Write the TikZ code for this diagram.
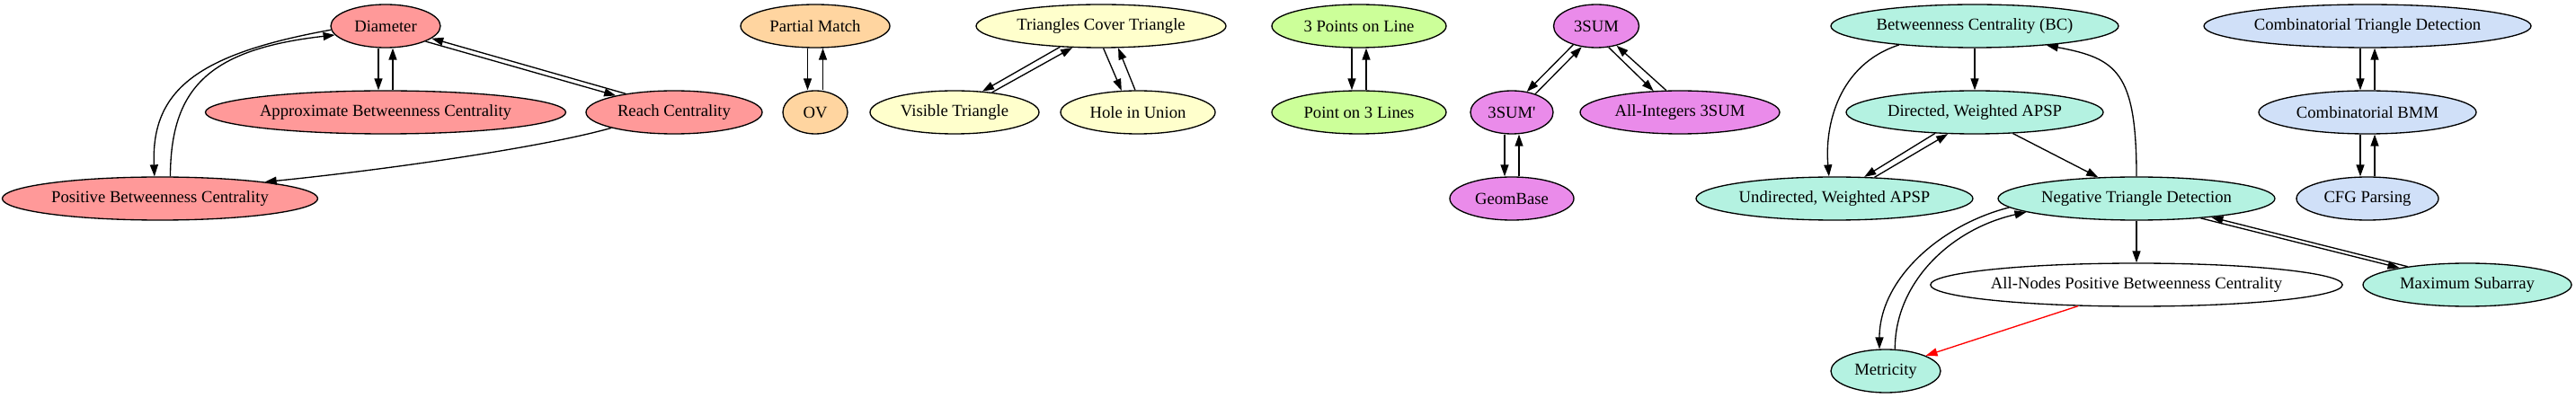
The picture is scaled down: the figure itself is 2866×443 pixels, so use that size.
\documentclass[tikz,border=0pt]{standalone}
\usepackage{fontspec}
\setmainfont{Liberation Serif}
\usetikzlibrary{shapes.geometric,arrows.meta}
\definecolor{cred}{HTML}{FF9999}
\definecolor{corange}{HTML}{FFD5A0}
\definecolor{cyellow}{HTML}{FFFFCC}
\definecolor{cgreen}{HTML}{CCFF99}
\definecolor{cpurple}{HTML}{EA8BEA}
\definecolor{cteal}{HTML}{B4F2E1}
\definecolor{cblue}{HTML}{D0E0F8}
\begin{document}
\begin{tikzpicture}[x=1pt,y=-1pt,
  nd/.style={ellipse,draw=black,line width=1.33pt,inner sep=0pt,minimum height=48pt,
    font=\fontsize{18.67}{22}\selectfont},
  ed/.style={color=black,line width=1.33pt,-{Triangle[length=13pt,width=9pt]}},
  ]
\useasboundingbox (0,0) rectangle (2866,443);
% red group
\node[nd,fill=cred,minimum width=122pt] (diam) at (429,29) {Diameter};
\node[nd,fill=cred,minimum width=401pt] (abc) at (429,125) {Approximate Betweenness Centrality};
\node[nd,fill=cred,minimum width=196pt] (reach) at (750,125) {Reach Centrality};
\node[nd,fill=cred,minimum width=351pt] (pbc) at (178,221) {Positive Betweenness Centrality};
% orange
\node[nd,fill=corange,minimum width=166pt] (pm) at (907,29) {Partial Match};
\node[nd,fill=corange,minimum width=72pt] (ov) at (907,125) {OV};
% yellow
\node[nd,fill=cyellow,minimum width=278pt] (tct) at (1225,29) {Triangles Cover Triangle};
\node[nd,fill=cyellow,minimum width=188pt] (vt) at (1062,125) {Visible Triangle};
\node[nd,fill=cyellow,minimum width=172pt] (hu) at (1266,125) {Hole in Union};
% green
\node[nd,fill=cgreen,minimum width=194pt] (tpl) at (1512,29) {3 Points on Line};
\node[nd,fill=cgreen,minimum width=194pt] (ptl) at (1512,125) {Point on 3 Lines};
% purple
\node[nd,fill=cpurple,minimum width=95pt] (s3) at (1776,29) {3SUM};
\node[nd,fill=cpurple,minimum width=92pt] (s3p) at (1682,125) {3SUM\textquotesingle};
\node[nd,fill=cpurple,minimum width=222pt] (ai3) at (1869,125) {All-Integers 3SUM};
\node[nd,fill=cpurple,minimum width=138pt] (gb) at (1682,221) {GeomBase};
% teal
\node[nd,fill=cteal,minimum width=320pt] (bc) at (2197,29) {Betweenness Centrality (BC)};
\node[nd,fill=cteal,minimum width=286pt] (dapsp) at (2197,125) {Directed, Weighted APSP};
\node[nd,fill=cteal,minimum width=308pt] (uapsp) at (2041,221) {Undirected, Weighted APSP};
\node[nd,fill=cteal,minimum width=308pt] (ntd) at (2377,221) {Negative Triangle Detection};
\node[nd,fill=white,minimum width=457pt] (anpbc) at (2377,317) {All-Nodes Positive Betweenness Centrality};
\node[nd,fill=cteal,minimum width=232pt] (msa) at (2745,317) {Maximum Subarray};
\node[nd,fill=cteal,minimum width=122pt] (met) at (2098,413) {Metricity};
% blue
\node[nd,fill=cblue,minimum width=364pt] (ctd) at (2634,29) {Combinatorial Triangle Detection};
\node[nd,fill=cblue,minimum width=242pt] (bmm) at (2634,125) {Combinatorial BMM};
\node[nd,fill=cblue,minimum width=158pt] (cfg) at (2634,221) {CFG Parsing};

% red edges
\draw[ed] ([xshift=-8pt]diam.south) -- ([xshift=-8pt]abc.north);
\draw[ed] ([xshift=8pt]abc.north) -- ([xshift=8pt]diam.south);
\draw[ed] (diam.339) -- (reach.164);
\draw[ed] (reach.159) -- (diam.345);
\draw[ed] (diam.184) .. controls (220,60) and (168,100) .. (pbc.104);
\draw[ed] (pbc.65) .. controls (190,100) and (230,55) .. (diam.190);
\draw[ed] (reach.194) .. controls (600,165) and (420,190) .. (pbc.9);
% orange edges
\draw[ed] ([xshift=-8.5pt]pm.south) -- ([xshift=-8.5pt]ov.north);
\draw[ed] ([xshift=8.5pt]ov.north) -- ([xshift=8.5pt]pm.south);
% yellow edges
\draw[ed] (tct.207) -- (vt.37);
\draw[ed] (vt.28) -- (tct.217);
\draw[ed] (tct.276) -- (hu.127);
\draw[ed] (hu.97) -- (tct.308);
% green edges
\draw[ed] ([xshift=-8pt]tpl.south) -- ([xshift=-8pt]ptl.north);
\draw[ed] ([xshift=8pt]ptl.north) -- ([xshift=8pt]tpl.south);
% purple edges
\draw[ed] (s3.219) -- (s3p.54);
\draw[ed] (s3p.38) -- (s3.235);
\draw[ed] (s3.300) -- (ai3.141);
\draw[ed] (ai3.122) -- (s3.316);
\draw[ed] ([xshift=-8pt]s3p.south) -- ([xshift=-8pt]gb.north);
\draw[ed] ([xshift=8pt]gb.north) -- ([xshift=8pt]s3p.south);
% teal edges
\draw[ed] (bc.south) -- (dapsp.north);
\draw[ed] (bc.194) .. controls (2045,72) and (2030,140) .. (uapsp.104);
\draw[ed] (dapsp.208) -- (uapsp.36);
\draw[ed] (uapsp.28) -- (dapsp.219);
\draw[ed] (dapsp.331) -- (ntd.151);
\draw[ed] (ntd.north) .. controls (2377,80) and (2355,65) .. (bc.345);
\draw[ed] (ntd.south) -- (anpbc.north);
\draw[ed] (ntd.184) .. controls (2160,250) and (2091,310) .. (met.106);
\draw[ed] (met.67) .. controls (2108,315) and (2170,255) .. (ntd.187);
\draw[ed] (ntd.343) -- (msa.166);
\draw[ed] (msa.163) -- (ntd.346);
\draw[ed,color=red] (anpbc.200) -- (met.21);
% blue edges
\draw[ed] ([xshift=-8pt]ctd.south) -- ([xshift=-8pt]bmm.north);
\draw[ed] ([xshift=8pt]bmm.north) -- ([xshift=8pt]ctd.south);
\draw[ed] ([xshift=-8pt]bmm.south) -- ([xshift=-8pt]cfg.north);
\draw[ed] ([xshift=8pt]cfg.north) -- ([xshift=8pt]bmm.south);
\end{tikzpicture}
\end{document}
